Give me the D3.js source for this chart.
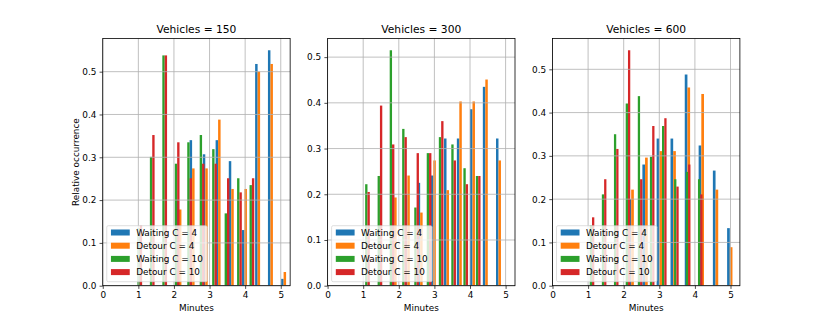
<!DOCTYPE html>
<html>
<head>
<meta charset="utf-8">
<script src="https://cdn.jsdelivr.net/npm/d3@7"></script>
<style>
body{margin:0;background:#fff;}
text{font-family:"DejaVu Sans",sans-serif;fill:#000;}
</style>
</head>
<body>
<div id="chart"></div>
<script>
var vehicles = [150, 300, 600];
var seriesNames = ["Waiting C = 4","Detour C = 4","Waiting C = 10","Detour C = 10"];
var seriesColors = ["#1f77b4","#ff7f0e","#2ca02c","#d62728"];
var xTicks = [0,1,2,3,4,5];
var yTicks = [0,0.1,0.2,0.3,0.4,0.5];

// bin centres in minutes, C = 4 runs
var bins4_150 = [2.14, 2.51, 2.88, 3.24, 3.61, 3.98, 4.35, 4.71, 5.08];
var waiting4_150 = [0.20, 0.34, 0.307, 0.34, 0.291, 0.130, 0.518, 0.55, 0.016];
var detour4_150 = [0.178, 0.274, 0.274, 0.388, 0.226, 0.226, 0.50, 0.518, 0.032];
// bin centres in minutes, C = 10 runs
var bins10_150 = [1.04, 1.39, 1.74, 2.09, 2.44, 2.79, 3.14, 3.49, 3.84, 4.19];
var waiting10_150 = [0.135, 0.301, 0.538, 0.285, 0.335, 0.352, 0.319, 0.169, 0.251, 0.235];
var detour10_150 = [0.14, 0.352, 0.538, 0.335, 0.251, 0.285, 0.285, 0.251, 0.218, 0.251];

var bins4_300 = [1.87, 2.24, 2.60, 2.97, 3.34, 3.70, 4.07, 4.43, 4.80];
var waiting4_300 = [0.2, 0.2, 0.225, 0.241, 0.322, 0.322, 0.386, 0.435, 0.322];
var detour4_300 = [0.193, 0.241, 0.160, 0.274, 0.209, 0.403, 0.403, 0.451, 0.274];
var bins10_300 = [1.12, 1.47, 1.81, 2.16, 2.50, 2.85, 3.19, 3.54, 3.88, 4.23];
var waiting10_300 = [0.222, 0.240, 0.515, 0.343, 0.171, 0.290, 0.325, 0.309, 0.257, 0.240];
var detour10_300 = [0.205, 0.394, 0.309, 0.325, 0.290, 0.290, 0.360, 0.274, 0.222, 0.240];

var bins4_600 = [2.21, 2.60, 3.00, 3.39, 3.79, 4.18, 4.58, 4.98];
var waiting4_600 = [0.2, 0.280, 0.340, 0.340, 0.488, 0.324, 0.266, 0.133];
var detour4_600 = [0.222, 0.296, 0.311, 0.311, 0.458, 0.443, 0.222, 0.089];
var bins10_600 = [1.11, 1.45, 1.79, 2.12, 2.46, 2.80, 3.14, 3.48, 3.81, 4.15];
var waiting10_600 = [0.139, 0.211, 0.350, 0.421, 0.438, 0.298, 0.369, 0.246, 0.263, 0.246];
var detour10_600 = [0.158, 0.246, 0.316, 0.544, 0.246, 0.369, 0.387, 0.229, 0.280, 0.211];

var panels = [
	{vehicles: vehicles[0], groups: [{bins: bins4_150, values: [waiting4_150, detour4_150]}, {bins: bins10_150, values: [waiting10_150, detour10_150]}]},
	{vehicles: vehicles[1], groups: [{bins: bins4_300, values: [waiting4_300, detour4_300]}, {bins: bins10_300, values: [waiting10_300, detour10_300]}]},
	{vehicles: vehicles[2], groups: [{bins: bins4_600, values: [waiting4_600, detour4_600]}, {bins: bins10_600, values: [waiting10_600, detour10_600]}]}
];

var width = 822, height = 321;
var axLefts = [102.75, 327.6, 552.5];
var axW = 187.4, axTop = 38.5, axBottom = 285.7;
var axH = axBottom - axTop;
var xMax = 5.264;
var fontSmall = 8.9, fontTitle = 10.7;

var svg = d3.select("#chart").append("svg")
	.attr("width", width)
	.attr("height", height);
svg.append("rect").attr("width", width).attr("height", height).attr("fill", "#fff");

function drawPanel(panel, i){
	var g = svg.append("g").attr("transform", "translate(" + axLefts[i] + "," + axTop + ")");
	var x = d3.scaleLinear().domain([0, xMax]).range([0, axW]);
	var allValues = panel.groups.flatMap(gr => gr.values.flat());
	var y = d3.scaleLinear().domain([0, d3.max(allValues) * 1.05]).range([axH, 0]);

	var clip = "clip" + i;
	g.append("clipPath").attr("id", clip).append("rect").attr("width", axW).attr("height", axH);
	var plot = g.append("g").attr("clip-path", "url(#" + clip + ")");

	// bars: C = 4 pair first, then C = 10 pair on top
	panel.groups.forEach((gr, gi) => {
		var n = gr.bins.length;
		var step = (gr.bins[n-1] - gr.bins[0]) / (n - 1);
		var w = 0.19 * step;
		gr.values.forEach((vals, si) => {
			plot.append("g").selectAll("rect")
				.data(vals)
				.enter()
				.append("rect")
					.attr("x", (d, k) => x(gr.bins[k] - w + si * w))
					.attr("width", x(w) - x(0))
					.attr("y", d => y(d))
					.attr("height", d => y(0) - y(d))
					.attr("fill", seriesColors[gi * 2 + si]);
		});
	});

	// grid sits above the bars like matplotlib's default
	var grid = g.append("g").attr("stroke", "#b0b0b0").attr("stroke-width", 0.8);
	grid.selectAll("line.v").data(xTicks).enter().append("line")
		.attr("x1", d => x(d)).attr("x2", d => x(d)).attr("y1", 0).attr("y2", axH);
	grid.selectAll("line.h").data(yTicks).enter().append("line")
		.attr("x1", 0).attr("x2", axW).attr("y1", d => y(d)).attr("y2", d => y(d));

	var xAxis = g.append("g").attr("transform", "translate(0," + axH + ")")
		.call(d3.axisBottom(x).tickValues(xTicks).tickFormat(d3.format("d")).tickSize(3.2).tickPadding(3.2));
	var yAxis = g.append("g")
		.call(d3.axisLeft(y).tickValues(yTicks).tickFormat(d3.format(".1f")).tickSize(3.2).tickPadding(3.2));
	[xAxis, yAxis].forEach(a => {
		a.select(".domain").remove();
		a.selectAll("text").attr("font-size", fontSmall).attr("font-family", "DejaVu Sans");
		a.selectAll("line").attr("stroke", "#000").attr("stroke-width", 0.7);
	});

	g.append("rect").attr("width", axW).attr("height", axH)
		.attr("fill", "none").attr("stroke", "#000").attr("stroke-width", 0.8);

	g.append("text")
		.attr("x", axW / 2).attr("y", -5.5)
		.attr("text-anchor", "middle")
		.attr("font-size", fontTitle)
		.text("Vehicles = " + panel.vehicles);

	g.append("text")
		.attr("x", axW / 2).attr("y", axH + 25)
		.attr("text-anchor", "middle")
		.attr("font-size", fontSmall)
		.text("Minutes");

	if(i == 0){
		g.append("text")
			.attr("transform", "translate(" + (-23.5) + "," + (axH / 2) + ") rotate(-90)")
			.attr("text-anchor", "middle")
			.attr("font-size", fontSmall)
			.text("Relative occurrence");
	}

	// legend, lower left
	var lw = 100.5, lh = 56;
	var legend = g.append("g").attr("transform", "translate(" + 4 + "," + (axH - 4 - lh) + ")");
	legend.append("rect").attr("width", lw).attr("height", lh).attr("rx", 1.5)
		.attr("fill", "#fff").attr("fill-opacity", 0.8)
		.attr("stroke", "#cccccc").attr("stroke-opacity", 0.8).attr("stroke-width", 0.8);
	var items = legend.selectAll("g.item").data(seriesNames).enter().append("g")
		.attr("transform", (d, k) => "translate(0," + (6.8 + k * 13.2) + ")");
	items.append("rect").attr("x", 4.2).attr("y", -3).attr("width", 18.8).attr("height", 6)
		.attr("fill", (d, k) => seriesColors[k]);
	items.append("text").attr("x", 29.4).attr("y", 0).attr("dy", "0.35em")
		.attr("font-size", fontSmall).text(d => d);
}

panels.forEach((p, i) => drawPanel(p, i));
</script>
</body>
</html>
